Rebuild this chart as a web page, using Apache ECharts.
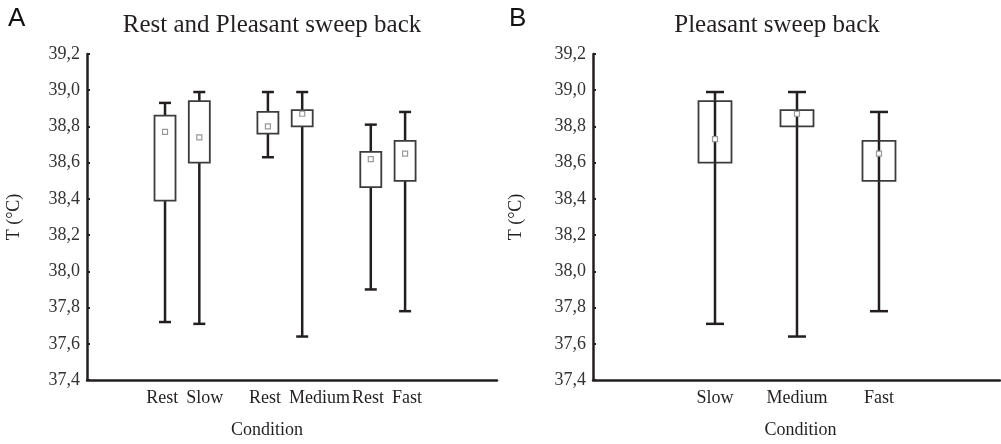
<!DOCTYPE html>
<html>
<head>
<meta charset="utf-8">
<script src="https://cdn.jsdelivr.net/npm/echarts@6/dist/echarts.min.js"></script>
<style>
  html, body { margin: 0; padding: 0; background: #fff; }
  #main { width: 1001px; height: 444px; }
</style>
</head>
<body>
<div id="main"></div>
<script>
// panel A: rest / pleasant pairs
const leftLabels = ['Rest', 'Slow', 'Rest', 'Medium', 'Rest', 'Fast']
const leftPos = [1, 2, 4, 5, 7, 8]
const leftMin = [37.72, 37.71, 38.63, 37.64, 37.90, 37.78]
const leftQ1 = [38.39, 38.60, 38.76, 38.80, 38.465, 38.50]
const leftMean = [38.77, 38.74, 38.80, 38.87, 38.62, 38.65]
const leftQ3 = [38.86, 38.94, 38.88, 38.89, 38.66, 38.72]
const leftMax = [38.93, 38.99, 38.99, 38.99, 38.81, 38.88]

// panel B: pleasant sweep only
const rightLabels = ['Slow', 'Medium', 'Fast']
const rightPos = [1, 2, 3]
const rightMin = [37.71, 37.64, 37.78]
const rightQ1 = [38.60, 38.80, 38.50]
const rightMean = [38.73, 38.87, 38.65]
const rightQ3 = [38.94, 38.89, 38.72]
const rightMax = [38.99, 38.99, 38.88]

const yMin = 37.4
const yMax = 39.2
const serif = '"Liberation Serif", "Times New Roman", serif'
const ink = '#231f20'

function rows(pos, mn, q1, mean, q3, mx) {
  return pos.map((p, i) => [p, mn[i], q1[i], mean[i], q3[i], mx[i], i])
}

function makeRender(labels, boxW, capW, lineThrough, paired) {
  return function(params, api) {
    const x = api.value(0)
    const idx = api.value(6)
    const pMin = api.coord([x, api.value(1)])
    const pQ1 = api.coord([x, api.value(2)])
    const pMean = api.coord([x, api.value(3)])
    const pQ3 = api.coord([x, api.value(4)])
    const pMax = api.coord([x, api.value(5)])
    const pBase = api.coord([x, yMin])
    const cx = pMin[0]
    const lineStyle = { stroke: ink, lineWidth: 2.5 }
    const children = [
      { type: 'line', shape: { x1: cx, y1: pMin[1], x2: cx, y2: pMax[1] }, style: lineStyle },
      { type: 'line', shape: { x1: cx - capW / 2, y1: pMin[1], x2: cx + capW / 2, y2: pMin[1] }, style: lineStyle },
      { type: 'line', shape: { x1: cx - capW / 2, y1: pMax[1], x2: cx + capW / 2, y2: pMax[1] }, style: lineStyle },
      {
        type: 'rect',
        shape: { x: cx - boxW / 2, y: pQ3[1], width: boxW, height: pQ1[1] - pQ3[1] },
        style: { fill: '#fff', stroke: '#3c3c3c', lineWidth: 1.8 }
      }
    ]
    if (lineThrough) {
      children.push({ type: 'line', shape: { x1: cx, y1: pQ1[1], x2: cx, y2: pQ3[1] }, style: lineStyle })
    }
    children.push({
      type: 'rect',
      shape: { x: cx - 2.5, y: pMean[1] - 2.5, width: 5, height: 5 },
      style: { fill: '#fff', stroke: '#999', lineWidth: 1.2 }
    })
    // category label under the axis
    let tx = cx
    let align = 'center'
    if (paired) {
      const mate = idx % 2 === 0 ? 1 : -1
      const other = api.coord([x + mate, yMin])[0]
      const mid = (cx + other) / 2
      if (idx % 2 === 0) { tx = mid - 4; align = 'right' } else { tx = mid + 4; align = 'left' }
    }
    children.push({
      type: 'text',
      style: {
        x: tx, y: pBase[1] + 18, text: labels[idx],
        align: align, verticalAlign: 'middle',
        font: '18px ' + serif, fill: ink
      }
    })
    return { type: 'group', children: children }
  }
}

function yAxisOpt(gridIndex, nameGap) {
  return {
    type: 'value',
    gridIndex: gridIndex,
    min: yMin,
    max: yMax,
    interval: 0.2,
    name: 'T (°C)',
    nameLocation: 'middle',
    nameRotate: 90,
    nameGap: nameGap,
    nameTextStyle: { fontFamily: serif, fontSize: 18, color: ink },
    axisLine: { show: true, onZero: false, lineStyle: { color: ink, width: 2.5 } },
    axisTick: { show: true, inside: true, length: 3, lineStyle: { color: ink, width: 2 } },
    splitLine: { show: false },
    axisLabel: {
      margin: 7,
      fontFamily: serif,
      fontSize: 18,
      color: '#333',
      formatter: v => v.toFixed(1).replace('.', ',')
    }
  }
}

function xAxisOpt(gridIndex, min, max, shift) {
  return {
    type: 'value',
    gridIndex: gridIndex,
    min: min,
    max: max,
    name: 'Condition',
    nameLocation: 'middle',
    nameGap: 41,
    nameTextStyle: {
      fontFamily: serif, fontSize: 18, color: ink,
      padding: shift > 0 ? [0, shift, 0, 0] : [0, 0, 0, -shift]
    },
    axisLine: { show: true, onZero: false, lineStyle: { color: ink, width: 2.5 } },
    axisTick: { show: false },
    axisLabel: { show: false },
    splitLine: { show: false }
  }
}

const chart = echarts.init(document.getElementById('main'))
chart.setOption({
  animation: false,
  title: [
    { text: 'A', left: 8, top: 6, padding: 0, textStyle: { fontFamily: '"Liberation Sans", Arial, sans-serif', fontSize: 26, fontWeight: 'normal', color: '#111' } },
    { text: 'B', left: 509, top: 6, padding: 0, textStyle: { fontFamily: '"Liberation Sans", Arial, sans-serif', fontSize: 26, fontWeight: 'normal', color: '#111' } },
    { text: 'Rest and Pleasant sweep back', left: 272, top: 13, padding: 0, textAlign: 'center', textStyle: { fontFamily: serif, fontSize: 25, fontWeight: 'normal', color: ink } },
    { text: 'Pleasant sweep back', left: 777, top: 13, padding: 0, textAlign: 'center', textStyle: { fontFamily: serif, fontSize: 25, fontWeight: 'normal', color: ink } }
  ],
  grid: [
    { left: 87, right: 504, top: 54, bottom: 61 },
    { left: 593, right: 1, top: 54, bottom: 60 }
  ],
  xAxis: [
    xAxisOpt(0, -1.275, 10.68, 50),
    xAxisOpt(1, -0.488, 4.476, -8)
  ],
  yAxis: [
    yAxisOpt(0, 64),
    yAxisOpt(1, 68)
  ],
  series: [
    {
      type: 'custom',
      xAxisIndex: 0,
      yAxisIndex: 0,
      clip: false,
      renderItem: makeRender(leftLabels, 21, 12, false, true),
      encode: { x: 0, y: [1, 2, 3, 4, 5] },
      data: rows(leftPos, leftMin, leftQ1, leftMean, leftQ3, leftMax)
    },
    {
      type: 'custom',
      xAxisIndex: 1,
      yAxisIndex: 1,
      clip: false,
      renderItem: makeRender(rightLabels, 33, 18, true, false),
      encode: { x: 0, y: [1, 2, 3, 4, 5] },
      data: rows(rightPos, rightMin, rightQ1, rightMean, rightQ3, rightMax)
    }
  ]
})
</script>
</body>
</html>
